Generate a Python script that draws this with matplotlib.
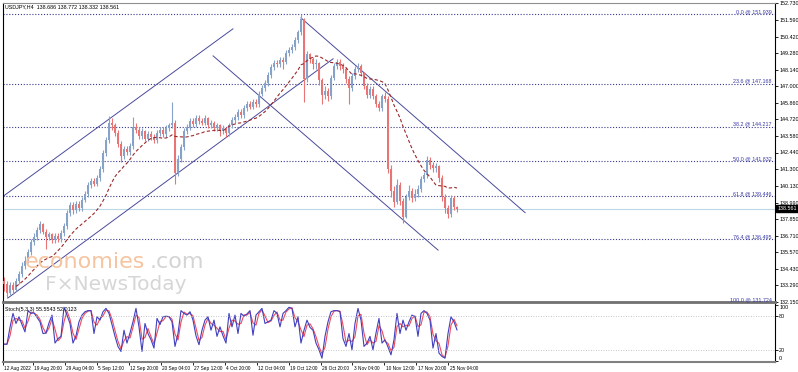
import matplotlib
matplotlib.use('Agg')
import matplotlib.pyplot as plt
import matplotlib.transforms as mtransforms
import numpy as np
import pandas as pd

# USDJPY H4, one entry per candle
first_open = 133.6
closes = [133.4, 132.8, 133.3, 133.0, 133.6, 134.1, 134.6, 135.0, 135.6, 136.3,
          136.6, 137.1, 137.5, 137.0, 136.6, 136.8, 136.4, 136.7, 136.5, 136.9,
          137.4, 138.3, 138.8, 138.5, 138.9, 138.6, 139.2, 139.6, 140.2, 140.5,
          140.3, 140.7, 141.3, 142.4, 143.3, 144.5, 144.3, 143.8, 143.0, 142.2,
          142.7, 142.5, 142.9, 144.2, 144.0, 143.6, 143.9, 143.4, 143.7, 143.5,
          143.3, 143.8, 144.0, 143.7, 144.1, 144.3, 144.5, 141.0, 142.0, 142.8,
          143.9, 144.2, 144.6, 144.4, 144.8, 144.6, 144.5, 144.8, 144.3, 144.5,
          144.1, 144.3, 143.9, 144.1, 143.8, 144.3, 144.7, 144.9, 145.2, 145.0,
          145.5, 145.8, 145.6, 145.9, 145.8, 146.5, 146.9, 147.2, 147.8, 148.3,
          148.6, 148.5, 148.8, 148.7, 149.3, 149.5, 149.7, 150.2, 150.7, 151.6,
          147.5, 149.2, 148.9, 148.5, 148.6, 147.4, 146.4, 146.7, 146.3, 147.6,
          148.4, 148.7, 148.4, 148.2, 147.5, 146.9, 147.7, 148.2, 148.4, 147.9,
          147.0, 146.4, 146.8, 146.3, 145.8, 145.5, 146.3, 146.1, 141.3, 139.8,
          139.0, 140.2, 139.1, 138.0, 139.4, 139.8, 139.3, 139.6, 139.9, 140.6,
          140.9, 141.9, 141.6, 141.4, 141.5, 140.7, 139.4, 138.6, 138.2, 139.3,
          138.686, 138.561]
highs = [133.9, 133.6, 133.5, 133.5, 133.8, 134.3, 134.9, 135.3, 135.8, 136.5,
         136.9, 137.3, 137.7, 137.6, 137.2, 137.0, 136.9, 136.9, 136.9, 137.1,
         137.6, 138.5, 139.0, 139.0, 139.1, 139.1, 139.4, 139.8, 140.4, 140.7,
         140.7, 140.9, 141.5, 142.6, 143.5, 144.95, 144.8, 144.5, 144.0, 143.2,
         142.9, 142.9, 143.1, 144.9, 144.5, 144.2, 144.1, 144.0, 143.9, 143.9,
         143.7, 144.0, 144.2, 144.2, 144.3, 144.5, 145.9, 144.7, 142.3, 143.0,
         144.1, 144.4, 144.8, 144.8, 145.0, 145.0, 144.8, 145.0, 144.9, 144.7,
         144.6, 144.5, 144.4, 144.3, 144.2, 144.5, 144.9, 145.1, 145.4, 145.4,
         145.7, 146.0, 146.0, 146.1, 146.1, 146.7, 147.1, 147.4, 148.0, 148.5,
         148.8, 148.8, 149.0, 149.0, 149.5, 149.7, 149.9, 150.4, 150.9, 151.94,
         151.7, 149.4, 149.3, 149.0, 148.9, 148.7, 147.6, 147.0, 146.9, 147.8,
         148.6, 148.9, 148.9, 148.6, 148.3, 147.7, 147.9, 148.4, 148.6, 148.5,
         148.0, 147.2, 147.0, 147.0, 146.5, 146.0, 146.5, 146.6, 146.3, 141.6,
         140.1, 140.6, 140.4, 139.3, 139.6, 140.2, 140.0, 139.9, 140.2, 140.8,
         141.1, 142.2, 142.1, 141.8, 141.7, 141.6, 140.9, 139.6, 138.8, 139.5,
         139.45, 138.772]
lows = [132.9, 132.4, 132.6, 132.7, 132.9, 133.4, 133.9, 134.4, 134.8, 135.4,
        136.1, 136.4, 136.9, 136.8, 135.8, 136.4, 136.2, 136.2, 136.3, 136.3,
        136.7, 137.2, 138.1, 138.2, 138.3, 138.4, 138.4, 139.0, 139.4, 140.0,
        140.1, 140.1, 140.5, 141.1, 142.2, 143.1, 144.0, 143.6, 142.8, 141.8,
        142.0, 142.3, 142.3, 142.7, 143.8, 143.4, 143.4, 143.2, 143.2, 143.3,
        143.1, 143.1, 143.6, 143.5, 143.5, 143.9, 144.1, 140.3, 140.8, 141.8,
        142.6, 143.7, 144.0, 144.2, 144.2, 144.4, 144.3, 144.3, 144.1, 144.1,
        143.9, 143.9, 143.6, 143.7, 143.5, 143.6, 144.1, 144.5, 144.7, 144.8,
        144.8, 145.3, 145.4, 145.4, 145.6, 145.6, 146.3, 146.7, 147.0, 147.6,
        148.1, 148.3, 148.3, 148.2, 148.5, 149.1, 149.3, 149.5, 150.0, 150.5,
        145.9, 147.3, 148.6, 148.2, 148.2, 147.1, 145.8, 146.1, 146.0, 146.1,
        147.4, 148.2, 148.1, 147.9, 147.2, 145.8, 146.7, 147.5, 148.0, 147.7,
        146.8, 146.2, 146.2, 146.1, 145.6, 145.3, 145.3, 145.9, 141.0, 139.4,
        138.7, 138.9, 138.8, 137.6, 137.9, 139.2, 139.0, 139.1, 139.4, 139.7,
        140.4, 140.7, 141.3, 141.1, 141.1, 140.4, 139.1, 138.3, 137.9, 138.0,
        138.5, 138.332]
stoch_k = [30, 30, 60, 85, 67, 79, 65, 52, 90, 85,
           86, 78, 70, 49, 50, 68, 82, 32, 40, 44,
           96, 82, 67, 32, 45, 70, 82, 88, 90, 90,
           49, 79, 73, 88, 94, 85, 65, 44, 26, 17,
           55, 32, 50, 70, 94, 61, 17, 67, 49, 38,
           23, 76, 65, 79, 80, 79, 70, 26, 49, 90,
           85, 82, 88, 73, 45, 29, 55, 73, 79, 55,
           73, 44, 61, 45, 32, 85, 61, 82, 49, 85,
           80, 84, 90, 46, 82, 88, 94, 67, 70, 73,
           90, 85, 61, 85, 90, 96, 94, 61, 79, 32,
           55, 73, 60, 55, 32, 20, 5, 44, 70, 88,
           90, 90, 88, 40, 26, 49, 20, 67, 94, 73,
           26, 32, 44, 20, 50, 76, 32, 38, 25, 11,
           38, 85, 49, 73, 55, 70, 82, 79, 44, 85,
           90, 85, 73, 23, 49, 14, 8, 5, 49, 79,
           70, 55.55]

fib_pcts = ['0.0', '23.6', '38.2', '50.0', '61.8', '76.4', '100.0']
fib_prices = [151.939, 147.168, 144.217, 141.832, 139.446, 136.495, 131.724]
last_price = 138.561

# trend lines: (bar, price) start and end
up_chan_top = [(-0.33, 139.42), (76.3, 150.95)]
up_chan_bot = [(1.33, 132.43), (109.7, 148.89)]
dn_chan_top = [(99.0, 151.70), (173.7, 138.30)]
dn_chan_bot = [(69.7, 149.09), (144.7, 135.72)]

price_ticks = ['152.730', '151.590', '150.420', '149.280', '148.140', '147.000',
               '145.860', '144.720', '143.580', '142.440', '141.300', '140.130',
               '138.990', '137.850', '136.710', '135.570', '134.430', '133.290',
               '132.150']
stoch_ticks = [0, 20, 80, 100]
date_labels = ['12 Aug 2022', '19 Aug 20:00', '29 Aug 04:00', '5 Sep 12:00',
               '12 Sep 20:00', '20 Sep 04:00', '27 Sep 12:00', '4 Oct 20:00',
               '12 Oct 04:00', '19 Oct 12:00', '26 Oct 20:00', '3 Nov 04:00',
               '10 Nov 12:00', '17 Nov 20:00', '25 Nov 04:00']

plt.rcParams['font.family'] = ['Liberation Sans', 'DejaVu Sans']
FS = 3.9   # axis text
FD = 3.4   # date labels
W, H = 798, 372
fig = plt.figure(figsize=(W / 100, H / 100), dpi=100)
ax = fig.add_axes([3 / W, 1 - 302 / H, 772 / W, 299 / H])
ax2 = fig.add_axes([3 / W, 1 - 362 / H, 772 / W, 58 / H])

n = len(closes)
x = np.arange(n)
c = np.array(closes)
o = np.array([first_open] + closes[:-1])
up = c >= o
UP_COL, DN_COL = '#86a2c8', '#e87474'
cols = np.where(up, UP_COL, DN_COL)
ax.vlines(x, lows, highs, colors=cols, lw=0.8, zorder=3)
bottoms = np.minimum(o, c)
heights = np.maximum(np.abs(c - o), 0.05)
ax.bar(x, heights, bottom=bottoms, width=0.8, color=cols, linewidth=0, zorder=3)

# moving average
ma = pd.Series(closes).rolling(17, min_periods=5).mean()
ax.plot(x, ma, color='#9a2a2a', lw=0.8, ls=(0, (3, 2)), zorder=4)

# channels
for seg in (up_chan_top, up_chan_bot, dn_chan_top, dn_chan_bot):
    xs, ys = zip(*seg)
    ax.plot(xs, ys, color='#4a4a9c', lw=0.7, zorder=2)

# fibonacci levels
for pct, p in zip(fib_pcts, fib_prices):
    ax.axhline(p, color='#3a3a8c', lw=0.8, ls=(0, (1, 1.6)), zorder=1)
    yy = max(p, 132.15)
    ax.text(0.996, yy, f'{pct} @ {p:.3f}', transform=ax.get_yaxis_transform(),
            ha='right', va='bottom', fontsize=FS, color='#3838a8', clip_on=False)

ax.axhline(last_price, color='#bcd8e6', lw=0.8, zorder=1)
ax.text(1.003, last_price, f'{last_price:.3f}', transform=ax.get_yaxis_transform(),
        ha='left', va='center', fontsize=FS, color='white',
        bbox=dict(boxstyle='square,pad=0.2', fc='black', ec='black'))

ax.set_xlim(-0.33, 257)
ax.set_ylim(132.15, 152.73)
ax.yaxis.tick_right()
ax.set_yticks([float(t) for t in price_ticks])
ax.set_yticklabels(price_ticks)
ax.tick_params(axis='y', labelsize=FS, length=2, width=0.6, pad=1)
ax.tick_params(axis='x', bottom=False, labelbottom=False)
for s in ('left', 'right'):
    ax.spines[s].set_color('black')
    ax.spines[s].set_linewidth(0.8)
ax.spines['top'].set_color('#909090')
ax.spines['top'].set_linewidth(0.8)
ax.spines['bottom'].set_color('#707070')
ax.spines['bottom'].set_linewidth(2)

# stochastic
k = pd.Series(stoch_k)
d = k.rolling(2, min_periods=1).mean()
ax2.plot(x, d, color='#f04a5a', lw=0.8)
ax2.plot(x, k, color='#4040c0', lw=0.8)
for lvl in (20, 80):
    ax2.axhline(lvl, color='#b4b4b4', lw=0.6, ls=(0, (1, 2)))
ax2.set_xlim(-0.33, 257)
ax2.set_ylim(-1.8, 101.8)
ax2.yaxis.tick_right()
ax2.set_yticks(stoch_ticks)
ax2.tick_params(axis='y', labelsize=FS, length=2, width=0.6, pad=1)
ylabs = ax2.get_yticklabels()
ylabs[0].set_verticalalignment('bottom')
ylabs[-1].set_verticalalignment('top')
step = 31.95 / 3
date_pos = [-0.33] + [(33 - 4) / 3 + step * (kk - 1) for kk in range(1, len(date_labels))]
ax2.set_xticks(date_pos)
ax2.set_xticklabels(date_labels, ha='left')
ax2.tick_params(axis='x', labelsize=FD, length=2, width=0.6, pad=1)
off = mtransforms.ScaledTranslation(1.2 / 100, 0, fig.dpi_scale_trans)
for lab in ax2.get_xticklabels():
    lab.set_transform(lab.get_transform() + off)
ax2.spines['top'].set_visible(False)
for s in ('left', 'right'):
    ax2.spines[s].set_color('black')
    ax2.spines[s].set_linewidth(0.8)
ax2.spines['bottom'].set_color('#808080')
ax2.spines['bottom'].set_linewidth(1.5)

fig.text(5 / W, 1 - 7 / H, 'USDJPY,H4  138.686 138.772 138.332 138.561',
         fontsize=FS, va='center', ha='left')
fig.text(5 / W, 1 - 310 / H, 'Stoch(5,3,3) 55.5543 52.0123',
         fontsize=FS, va='center', ha='left')

# watermark
fig.text(25 / W, 1 - 262 / H, 'economies', fontsize=16, color='#f6c4a0',
         va='center', ha='left', zorder=0, family='DejaVu Sans')
fig.text(150 / W, 1 - 262 / H, '.com', fontsize=16, color='#d4d4d4',
         va='center', ha='left', zorder=0, family='DejaVu Sans')
fig.text(45 / W, 1 - 284 / H, 'F\u00d7NewsToday', fontsize=14.5, color='#d6d6d6',
         va='center', ha='left', zorder=0, family='DejaVu Sans')

fig.savefig('out.png', dpi=100)
